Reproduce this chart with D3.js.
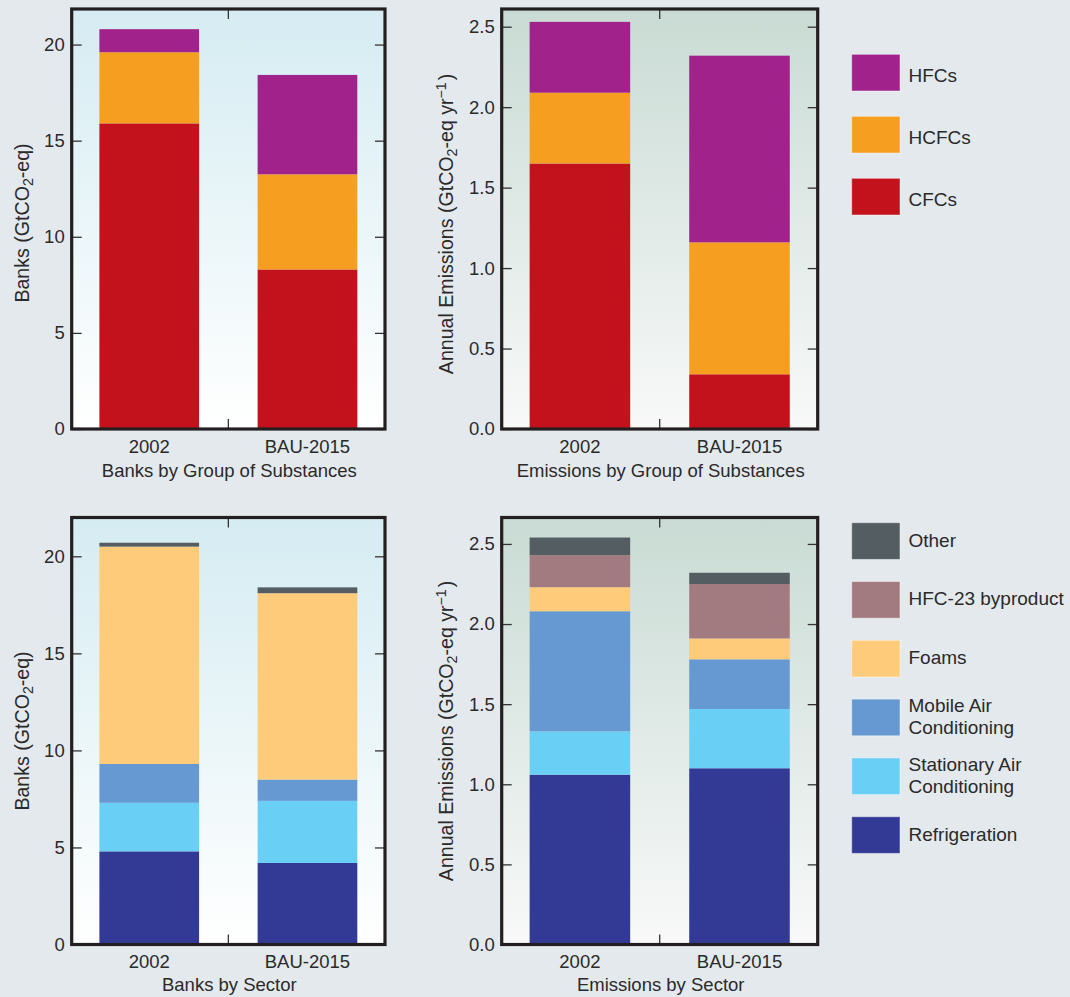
<!DOCTYPE html>
<html>
<head>
<meta charset="utf-8">
<script src="https://cdn.jsdelivr.net/npm/d3@7"></script>
<style>
  html, body { margin: 0; padding: 0; background: #e4e9ed; }
  svg { display: block; }
  text { font-family: "Liberation Sans", Arial, Helvetica, sans-serif; fill: #2a2a2a; }
</style>
</head>
<body>
<svg id="chart" width="1070" height="997"></svg>
<script>
// Scenario categories on the x axis
const categories = ["2002", "BAU-2015"];

// Banks by group of substances (GtCO2-eq)
const banksCFCs  = [15.9, 8.3];
const banksHCFCs = [3.7, 4.95];
const banksHFCs  = [1.2, 5.17];

// Annual emissions by group of substances (GtCO2-eq / yr)
const emisCFCs  = [1.65, 0.34];
const emisHCFCs = [0.44, 0.82];
const emisHFCs  = [0.44, 1.16];

// Banks by sector (GtCO2-eq)
const banksRefrigeration = [4.8, 4.2];
const banksStationaryAC  = [2.5, 3.2];
const banksMobileAC      = [2.0, 1.1];
const banksFoams         = [11.2, 9.6];
const banksHFC23         = [0, 0];
const banksOther         = [0.2, 0.3];

// Annual emissions by sector (GtCO2-eq / yr)
const emisRefrigeration = [1.06, 1.10];
const emisStationaryAC  = [0.27, 0.37];
const emisMobileAC      = [0.75, 0.31];
const emisFoams         = [0.15, 0.13];
const emisHFC23         = [0.20, 0.34];
const emisOther         = [0.11, 0.07];

// Series names, bottom of the stack first
const substanceKeys = ["CFCs", "HCFCs", "HFCs"];
const sectorKeys = ["Refrigeration", "Stationary Air Conditioning", "Mobile Air Conditioning",
                    "Foams", "HFC-23 byproduct", "Other"];

// Tick labels
const bankTicks = [0, 5, 10, 15, 20];
const emisTicks = [0, 0.5, 1.0, 1.5, 2.0, 2.5];

const colors = {
  "HFCs": "#a0228a",
  "HCFCs": "#f69e1f",
  "CFCs": "#c3121c",
  "Other": "#535d62",
  "HFC-23 byproduct": "#a17b80",
  "Foams": "#fecb7a",
  "Mobile Air Conditioning": "#6699d1",
  "Stationary Air Conditioning": "#6acff4",
  "Refrigeration": "#333a96"
};

function rows(keys, arrays) {
  return categories.map((c, i) => {
    const r = { category: c };
    keys.forEach((k, j) => { r[k] = arrays[j][i]; });
    return r;
  });
}

const svg = d3.select("#chart");
const defs = svg.append("defs");

function gradient(id, top, bottom) {
  const g = defs.append("linearGradient").attr("id", id)
    .attr("x1", 0).attr("y1", 0).attr("x2", 0).attr("y2", 1);
  g.append("stop").attr("offset", "0%").attr("stop-color", top);
  g.append("stop").attr("offset", "100%").attr("stop-color", bottom);
}
gradient("bgBlue", "#d5ecf2", "#ffffff");
gradient("bgGreen", "#c9dbd4", "#f8f9f8");

const panels = [
  { x0: 71.7, x1: 385, y0: 9, y1: 429, max: 21.85, ticks: bankTicks, fmt: d3.format("d"),
    keys: substanceKeys, data: rows(substanceKeys, [banksCFCs, banksHCFCs, banksHFCs]),
    bg: "bgBlue", ytitle: "banks", titleX: 29, titleY: 223, xtitle: "Banks by Group of Substances",
    catY: 453, xtitleY: 477 },
  { x0: 501.7, x1: 817.7, y0: 9, y1: 429, max: 2.61, ticks: emisTicks, fmt: d3.format(".1f"),
    keys: substanceKeys, data: rows(substanceKeys, [emisCFCs, emisHCFCs, emisHFCs]),
    bg: "bgGreen", ytitle: "emis", titleX: 453, titleY: 224, xtitle: "Emissions by Group of Substances",
    catY: 453, xtitleY: 477 },
  { x0: 71.7, x1: 385, y0: 517.5, y1: 944.5, max: 22, ticks: bankTicks, fmt: d3.format("d"),
    keys: sectorKeys, data: rows(sectorKeys, [banksRefrigeration, banksStationaryAC, banksMobileAC, banksFoams, banksHFC23, banksOther]),
    bg: "bgBlue", ytitle: "banks", titleX: 29, titleY: 731, xtitle: "Banks by Sector",
    catY: 968, xtitleY: 991 },
  { x0: 501.7, x1: 817.7, y0: 517.5, y1: 944.5, max: 2.665, ticks: emisTicks, fmt: d3.format(".1f"),
    keys: sectorKeys, data: rows(sectorKeys, [emisRefrigeration, emisStationaryAC, emisMobileAC, emisFoams, emisHFC23, emisOther]),
    bg: "bgGreen", ytitle: "emis", titleX: 453, titleY: 731, xtitle: "Emissions by Sector",
    catY: 968, xtitleY: 991 }
];

const FS = 18.5;     // tick labels and axis titles
const FS_Y = 19.6;   // rotated y-axis titles
const FS_LEG = 19;   // legend labels

panels.forEach(p => {
  const g = svg.append("g");
  const x = d3.scaleBand().domain(categories).range([p.x0, p.x1])
    .paddingInner(0.37).paddingOuter(0.175);
  const y = d3.scaleLinear().domain([0, p.max]).range([p.y1, p.y0]);

  // plot background
  g.append("rect").attr("x", p.x0).attr("y", p.y0)
    .attr("width", p.x1 - p.x0).attr("height", p.y1 - p.y0)
    .attr("fill", `url(#${p.bg})`);

  // stacked bars
  const series = d3.stack().keys(p.keys)(p.data);
  g.append("g").selectAll("g").data(series).join("g")
    .attr("fill", d => colors[d.key])
    .selectAll("rect").data(d => d).join("rect")
    .attr("x", d => x(d.data.category))
    .attr("width", x.bandwidth())
    .attr("y", d => y(d[1]))
    .attr("height", d => Math.max(0, y(d[0]) - y(d[1])));

  // left axis: inward ticks, labels outside
  const left = g.append("g").attr("transform", `translate(${p.x0},0)`)
    .call(d3.axisLeft(y).tickValues(p.ticks).tickFormat(p.fmt).tickSize(-10).tickPadding(7));
  left.select(".domain").remove();
  left.selectAll("line").attr("stroke", "#333").attr("stroke-width", 1.3);
  left.selectAll("text").attr("font-size", FS).style("fill", "#2a2a2a")
    .attr("font-family", "'Liberation Sans', Arial, sans-serif");

  // right axis: inward ticks only
  const right = g.append("g").attr("transform", `translate(${p.x1},0)`)
    .call(d3.axisRight(y).tickValues(p.ticks).tickFormat("").tickSize(-10));
  right.select(".domain").remove();
  right.selectAll("line").attr("stroke", "#333").attr("stroke-width", 1.3);

  // top/bottom divider ticks between the two bars
  const mid = (x(categories[0]) + x.bandwidth() + x(categories[1])) / 2;
  g.append("line").attr("x1", mid).attr("x2", mid).attr("y1", p.y0).attr("y2", p.y0 + 10)
    .attr("stroke", "#333").attr("stroke-width", 1.3);
  g.append("line").attr("x1", mid).attr("x2", mid).attr("y1", p.y1).attr("y2", p.y1 - 10)
    .attr("stroke", "#333").attr("stroke-width", 1.3);

  // frame
  g.append("rect").attr("x", p.x0).attr("y", p.y0)
    .attr("width", p.x1 - p.x0).attr("height", p.y1 - p.y0)
    .attr("fill", "none").attr("stroke", "#231f20").attr("stroke-width", 3.2);

  // category labels
  g.selectAll(".cat").data(categories).join("text")
    .attr("class", "cat")
    .attr("x", d => x(d) + x.bandwidth() / 2)
    .attr("y", p.catY)
    .attr("text-anchor", "middle")
    .attr("font-size", FS)
    .text(d => d);

  // x-axis title
  g.append("text").attr("x", (p.x0 + p.x1) / 2 + 1).attr("y", p.xtitleY)
    .attr("text-anchor", "middle").attr("font-size", FS).text(p.xtitle);

  // y-axis title
  const t = g.append("text")
    .attr("transform", `translate(${p.titleX},${p.titleY}) rotate(-90)`)
    .attr("text-anchor", "middle").attr("font-size", FS_Y);
  if (p.ytitle === "banks") {
    t.append("tspan").text("Banks (GtCO");
    t.append("tspan").attr("font-size", FS_Y * 0.72).attr("dy", 4).text("2");
    t.append("tspan").attr("dy", -4).text("-eq)");
  } else {
    t.append("tspan").text("Annual Emissions (GtCO");
    t.append("tspan").attr("font-size", FS_Y * 0.72).attr("dy", 4).text("2");
    t.append("tspan").attr("dy", -4).text("-eq yr");
    t.append("tspan").attr("font-size", FS_Y * 0.72).attr("dy", -7).text("\u22121");
    t.append("tspan").attr("dx", 2).attr("dy", 7).text(")");
  }
});

// Legends
function legend(items, top0, step) {
  const lg = svg.append("g");
  items.forEach((it, i) => {
    const top = top0 + i * step;
    lg.append("rect").attr("x", 851.7).attr("y", top).attr("width", 48.3).attr("height", 36.7)
      .attr("fill", colors[it.key]).attr("stroke", "rgba(255,255,255,0.45)").attr("stroke-width", 1);
    const txt = lg.append("text").attr("x", 908.5).attr("font-size", FS_LEG);
    if (it.lines.length === 1) {
      txt.attr("y", top + it.off).text(it.lines[0]);
    } else {
      txt.attr("y", top + 13);
      txt.append("tspan").attr("x", 908.5).text(it.lines[0]);
      txt.append("tspan").attr("x", 908.5).attr("dy", 21.8).text(it.lines[1]);
    }
  });
}

legend([
  { key: "HFCs", lines: ["HFCs"], off: 27.8 },
  { key: "HCFCs", lines: ["HCFCs"], off: 27.8 },
  { key: "CFCs", lines: ["CFCs"], off: 27.8 }
], 54.3, 62);

legend([
  { key: "Other", lines: ["Other"], off: 23.8 },
  { key: "HFC-23 byproduct", lines: ["HFC-23 byproduct"], off: 23.4 },
  { key: "Foams", lines: ["Foams"], off: 23.4 },
  { key: "Mobile Air Conditioning", lines: ["Mobile Air", "Conditioning"] },
  { key: "Stationary Air Conditioning", lines: ["Stationary Air", "Conditioning"] },
  { key: "Refrigeration", lines: ["Refrigeration"], off: 24 }
], 522.7, 58.8);
</script>
</body>
</html>
